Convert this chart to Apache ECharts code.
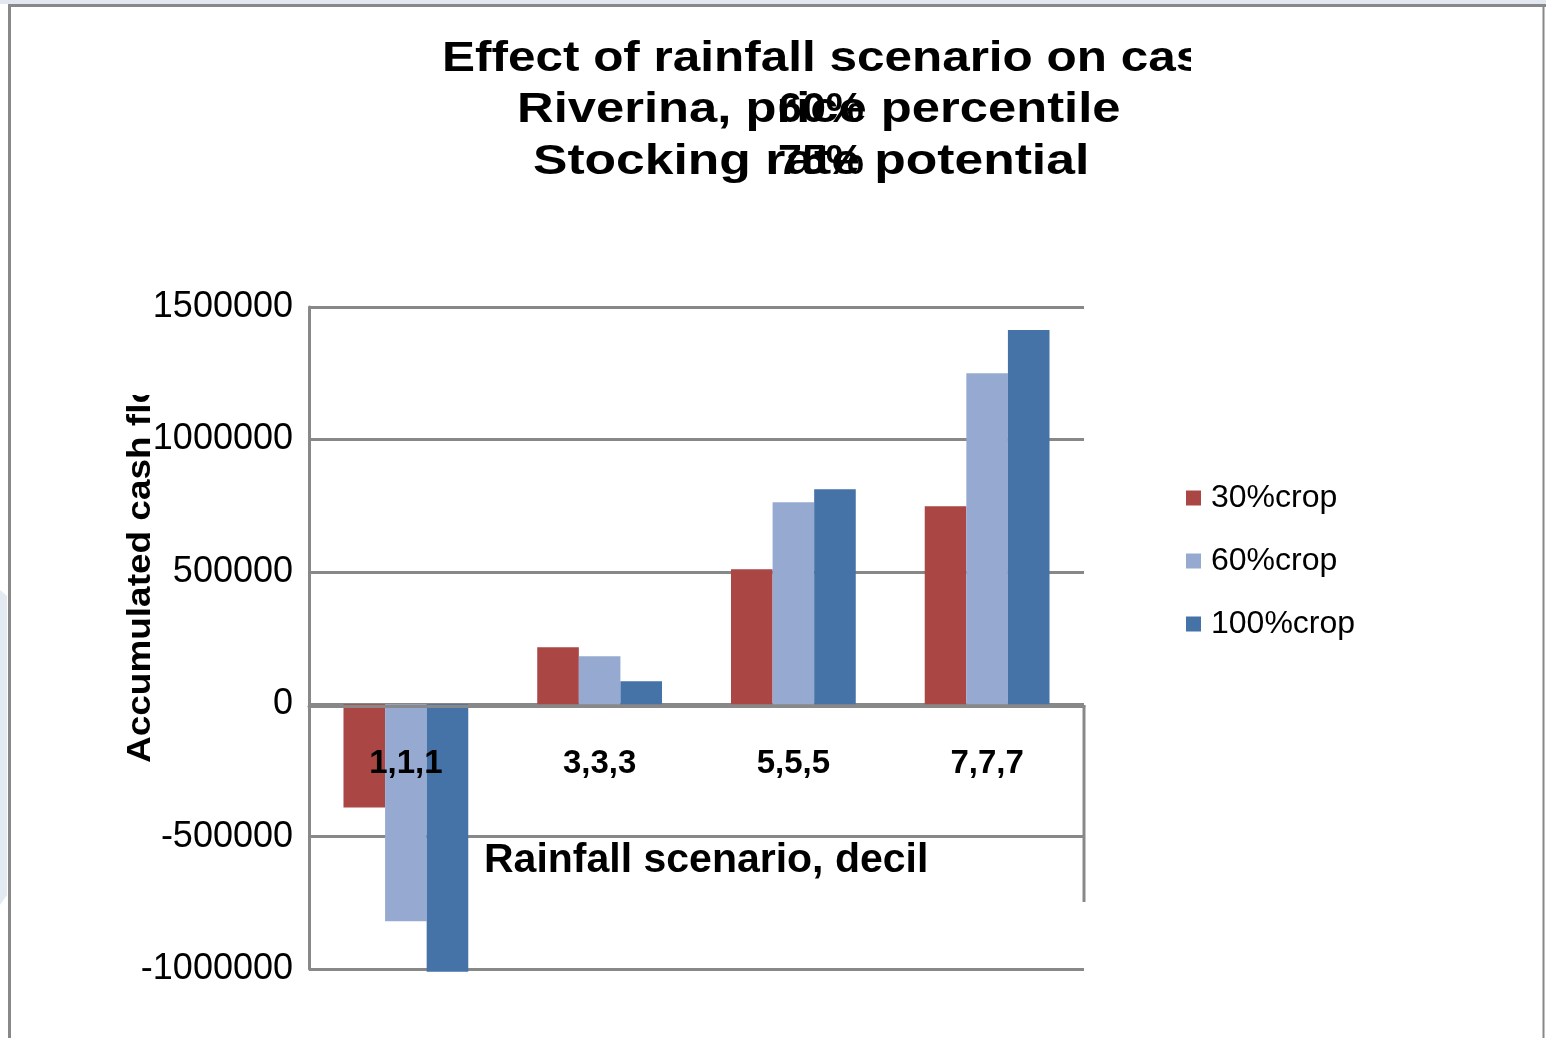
<!DOCTYPE html>
<html>
<head>
<meta charset="utf-8">
<title>Accumulated cash flow by rainfall scenario</title>
<script src="https://cdn.jsdelivr.net/npm/echarts@6/dist/echarts.min.js"></script>
<style>
  html, body { margin: 0; padding: 0; background: #fff; }
  #chart { width: 1546px; height: 1038px; }
</style>
</head>
<body>
<div id="chart"></div>
<script>
// Rainfall scenario (decile) categories
const categories = ['1,1,1', '3,3,3', '5,5,5', '7,7,7'];
// Accumulated cash flow for each cropping share
const crop30 = [-390000, 215000, 510000, 748000];
const crop60 = [-820000, 181000, 763000, 1250000];
const crop100 = [-1010000, 87000, 812000, 1413000];
const seriesNames = ['30%crop', '60%crop', '100%crop'];
const seriesColors = ['#AA4644', '#96AAD1', '#4572A7'];
// Value axis range and step
const yMin = -1000000;
const yMax = 1500000;
const yStep = 500000;

const FONT = '"Liberation Sans", Arial, Helvetica, sans-serif';
const GRID = { left: 309, right: 462, top: 307, bottom: 69 };
const LINE = '#888888';

const chart = echarts.init(document.getElementById('chart'), null, { renderer: 'canvas' });

function barSeries(name, data, color) {
  return {
    name: name,
    type: 'bar',
    data: data,
    clip: false,
    barGap: '0%',
    barCategoryGap: '35.6%',
    itemStyle: { color: color },
    emphasis: { disabled: true }
  };
}

function titleText(text, x, y, sx) {
  return {
    type: 'text',
    x: x, y: y,
    scaleX: sx,
    z: 10,
    style: {
      text: text,
      font: 'bold 43px ' + FONT,
      fill: '#000',
      textAlign: 'left',
      textVerticalAlign: 'middle'
    }
  };
}

const option = {
  backgroundColor: '#ffffff',
  animation: false,
  grid: GRID,
  legend: {
    orient: 'vertical',
    left: 1186,
    top: 482,
    padding: 0,
    itemWidth: 15,
    itemHeight: 15,
    itemGap: 31,
    icon: 'rect',
    textStyle: {
      fontFamily: FONT,
      fontSize: 32,
      lineHeight: 31,
      color: '#000',
      padding: [0, 0, 0, 5]
    },
    data: seriesNames
  },
  xAxis: {
    type: 'category',
    data: categories,
    position: 'bottom',
    z: 10,
    axisLine: { onZero: false, lineStyle: { color: LINE, width: 3 } },
    axisTick: { show: false },
    axisLabel: {
      margin: 41,
      fontFamily: FONT,
      fontSize: 33,
      fontWeight: 'bold',
      color: '#000'
    },
    splitLine: { show: false }
  },
  yAxis: {
    type: 'value',
    min: yMin,
    max: yMax,
    interval: yStep,
    axisLine: { show: true, lineStyle: { color: LINE, width: 3 } },
    axisTick: { show: false },
    axisLabel: {
      margin: 16,
      fontFamily: FONT,
      fontSize: 36,
      color: '#000',
      formatter: function (v) { return String(v); }
    },
    splitLine: { show: true, lineStyle: { color: LINE, width: 3 } }
  },
  series: [
    barSeries(seriesNames[0], crop30, seriesColors[0]),
    barSeries(seriesNames[1], crop60, seriesColors[1]),
    barSeries(seriesNames[2], crop100, seriesColors[2])
  ],
  graphic: [
    // faint page background at the very edges
    { type: 'rect', shape: { x: 0, y: 0, width: 1546, height: 4 }, style: { fill: '#e3e8f0' }, z: 0 },
    { type: 'polygon', shape: { points: [[0, 590], [7, 596], [7, 895], [0, 905]] }, style: { fill: '#e4eaf2' }, z: 0 },
    // chart frame
    { type: 'line', shape: { x1: 8, y1: 5.5, x2: 1546, y2: 5.5 }, style: { stroke: LINE, lineWidth: 3 }, z: 1 },
    { type: 'line', shape: { x1: 9.5, y1: 5, x2: 9.5, y2: 1038 }, style: { stroke: LINE, lineWidth: 3 }, z: 1 },
    { type: 'line', shape: { x1: 1543.5, y1: 5, x2: 1543.5, y2: 1038 }, style: { stroke: LINE, lineWidth: 2 }, z: 1 },
    // short right edge of the plot area below the category axis
    { type: 'line', shape: { x1: 1084, y1: 705, x2: 1084, y2: 902 }, style: { stroke: LINE, lineWidth: 3 }, z: 1 },

    // title
    titleText('Effect of rainfall scenario on cas', 442, 59, 1.15),
    { type: 'rect', shape: { x: 1191, y: 28, width: 340, height: 62 }, style: { fill: '#ffffff' }, z: 11 },
    titleText('Riverina, price percentile', 517, 110, 1.18),
    titleText('60%', 778, 110, 1.0),
    titleText('Stocking rate potential', 533, 162, 1.2),
    titleText('75%', 778, 162, 1.0),

    // value axis name (rotated, cut off at the top)
    {
      type: 'text',
      x: 141, y: 763,
      rotation: Math.PI / 2,
      scaleX: 1.12,
      z: 10,
      style: {
        text: 'Accumulated cash flow',
        font: 'bold 33px ' + FONT,
        fill: '#000',
        textAlign: 'left',
        textVerticalAlign: 'middle'
      }
    },
    { type: 'rect', shape: { x: 112, y: 250, width: 39, height: 145 }, style: { fill: '#ffffff' }, z: 11 },

    // category axis name
    {
      type: 'text',
      x: 484, y: 861,
      z: 10,
      style: {
        text: 'Rainfall scenario, decil',
        font: 'bold 41px ' + FONT,
        fill: '#000',
        textAlign: 'left',
        textVerticalAlign: 'middle'
      }
    }
  ]
};

chart.setOption(option);

// lift the category axis (line and labels) up to the zero value
const zeroY = chart.convertToPixel({ yAxisIndex: 0 }, 0);
const baseY = chart.convertToPixel({ yAxisIndex: 0 }, yMin);
chart.setOption({ xAxis: { offset: -(baseY - zeroY) } });
</script>
</body>
</html>
